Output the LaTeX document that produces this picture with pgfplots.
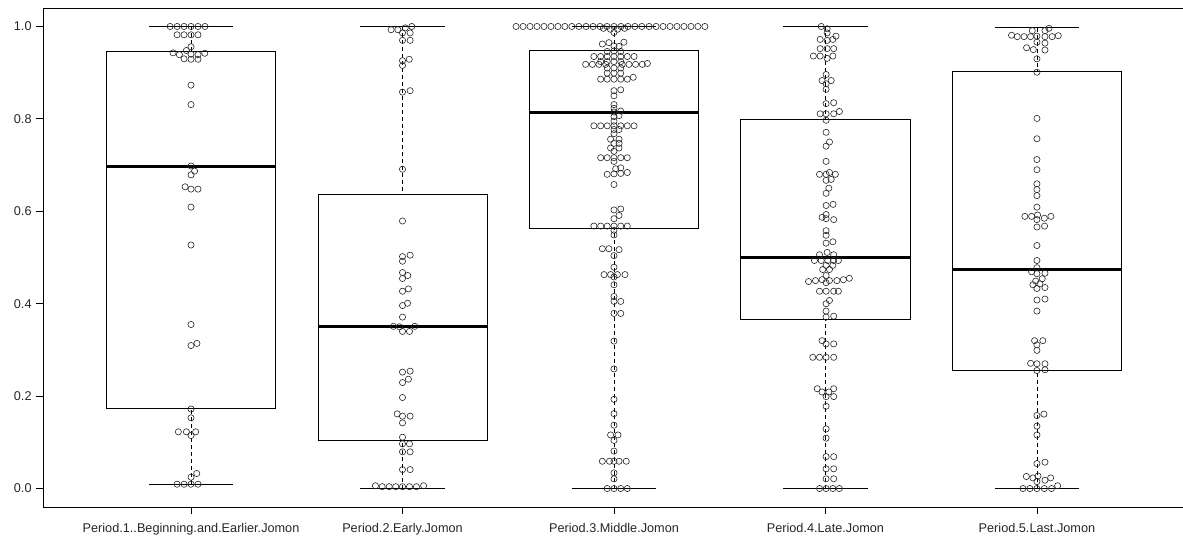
\documentclass[border=0pt]{standalone}
\usepackage{pgfplots}
\pgfplotsset{compat=1.18}
\usepgfplotslibrary{statistics}
\usepackage{fontspec}
\setmainfont{Liberation Sans}
\pgfplotsset{pts/.style={only marks, mark=o, mark size=3.1pt, mark options={line width=0.6pt, draw=black!85, fill=none}}}
\begin{document}
\fontsize{12.7pt}{15pt}\selectfont
\begin{tikzpicture}
\useasboundingbox (0,0) rectangle (1183pt,539pt);
\begin{axis}[
  at={(43pt,32pt)}, anchor=south west,
  scale only axis, width=1142pt, height=499pt,
  xmin=0.3, xmax=5.7, ymin=-0.04, ymax=1.04,
  xtick={1,2,3,4,5},
  xticklabels={Period.1..Beginning.and.Earlier.Jomon, Period.2.Early.Jomon, Period.3.Middle.Jomon, Period.4.Late.Jomon, Period.5.Last.Jomon},
  ytick={0,0.2,0.4,0.6,0.8,1.0},
  yticklabels={0.0,0.2,0.4,0.6,0.8,1.0},
  tick align=outside, tick pos=left, major tick length=7pt,
  axis line style={line width=0.8pt},
  every tick/.style={black, line width=0.8pt},
  ticklabel style={font=\fontsize{12.7pt}{15pt}\selectfont, text=black!85},
  xticklabel style={yshift=-5pt},
  boxplot/draw direction=y,
  boxplot/box extend=0.8,
  boxplot/whisker extend=0.4,
  boxplot/draw/lower whisker/.code={%
    \draw[dash pattern=on 4pt off 3pt, line width=0.8pt] (boxplot cs:\pgfplotsboxplotvalue{lower whisker}) -- (boxplot cs:\pgfplotsboxplotvalue{lower quartile});
    \draw[line width=0.8pt] (boxplot whisker cs:\pgfplotsboxplotvalue{lower whisker},0) -- (boxplot whisker cs:\pgfplotsboxplotvalue{lower whisker},1);
  },
  boxplot/draw/upper whisker/.code={%
    \draw[dash pattern=on 4pt off 3pt, line width=0.8pt] (boxplot cs:\pgfplotsboxplotvalue{upper whisker}) -- (boxplot cs:\pgfplotsboxplotvalue{upper quartile});
    \draw[line width=0.8pt] (boxplot whisker cs:\pgfplotsboxplotvalue{upper whisker},0) -- (boxplot whisker cs:\pgfplotsboxplotvalue{upper whisker},1);
  },
  boxplot/draw/median/.code={%
    \draw[line width=3pt] (boxplot box cs:\pgfplotsboxplotvalue{median},0) -- (boxplot box cs:\pgfplotsboxplotvalue{median},1);
  },
  boxplot/draw/box/.code={%
    \draw[line width=0.8pt] (boxplot box cs:\pgfplotsboxplotvalue{lower quartile},0) rectangle (boxplot box cs:\pgfplotsboxplotvalue{upper quartile},1);
  },
]
\addplot[black, boxplot prepared={lower whisker=0.0093, lower quartile=0.173, median=0.697, upper quartile=0.946, upper whisker=1.0, draw position=1}] coordinates {};
\addplot[black, boxplot prepared={lower whisker=0.0, lower quartile=0.104, median=0.351, upper quartile=0.636, upper whisker=1.0, draw position=2}] coordinates {};
\addplot[black, boxplot prepared={lower whisker=0.0, lower quartile=0.563, median=0.814, upper quartile=0.948, upper whisker=1.0, draw position=3}] coordinates {};
\addplot[black, boxplot prepared={lower whisker=0.0, lower quartile=0.366, median=0.501, upper quartile=0.798, upper whisker=1.0, draw position=4}] coordinates {};
\addplot[black, boxplot prepared={lower whisker=0.0, lower quartile=0.255, median=0.473, upper quartile=0.902, upper whisker=0.997, draw position=5}] coordinates {};

% Group 1
\addplot[pts] coordinates {
(0.901,1.0) (0.934,1.0) (0.967,1.0) (1,1.0) (1.033,1.0) (1.066,1.0)
(0.934,0.982) (0.967,0.982) (1,0.982) (1.033,0.982)
(1,0.956)
(0.978,0.948) (0.915,0.943) (0.945,0.939) (1,0.940) (1.033,0.939) (1.065,0.942)
(0.967,0.930) (1,0.929) (1.033,0.929)
(1,0.873) (1,0.831) (1,0.698) (1.017,0.687) (1,0.679)
(0.972,0.653) (1,0.648) (1.033,0.648) (1,0.609) (1,0.527)
(1,0.355) (1,0.3095) (1.028,0.314)
(1,0.172) (1,0.153) (0.940,0.1227) (0.978,0.1227) (1.022,0.1227) (1,0.1147)
(1,0.0245) (1.027,0.0325)
(0.934,0.0093) (0.967,0.0093) (1,0.0093) (1.033,0.0093)
};
% Group 2
\addplot[pts] coordinates {
(2.044,1.0) (2.013,0.997) (1.946,0.993) (1.978,0.993) (2,0.986) (2.036,0.986)
(2,0.970) (2.036,0.970) (2,0.926) (2.032,0.929) (2,0.9156)
(2,0.858) (2.036,0.861) (2,0.691) (2,0.579)
(2,0.502) (2.036,0.505) (2,0.492) (2,0.4675) (2.025,0.461) (2,0.4545)
(2,0.427) (2.028,0.432) (2,0.396) (2.024,0.401) (2,0.371)
(1.957,0.351) (1.986,0.350) (2.058,0.351) (2,0.340) (2.033,0.340)
(2,0.252) (2.036,0.254) (2,0.2294) (2.028,0.2366) (2,0.197)
(1.975,0.1616) (2,0.1566) (2.036,0.1566) (2,0.142)
(2,0.111) (2,0.0967) (2.033,0.0967) (2,0.0794) (2.036,0.0794)
(2,0.041) (2.036,0.041)
(1.872,0.006) (1.904,0.004) (1.937,0.004) (1.968,0.004) (2,0.004) (2.033,0.004) (2.066,0.004) (2.100,0.006)
};
% Group 3
\addplot[pts] coordinates {
(2.537,1.0) (2.570,1.0) (2.603,1.0) (2.636,1.0) (2.669,1.0) (2.702,1.0) (2.735,1.0)
(2.768,1.0) (2.801,1.0) (2.834,1.0) (2.868,1.0) (2.901,1.0) (2.934,1.0) (2.967,1.0)
(3.000,1.0) (3.033,1.0) (3.066,1.0) (3.099,1.0) (3.132,1.0) (3.166,1.0) (3.199,1.0)
(3.232,1.0) (3.265,1.0) (3.298,1.0) (3.331,1.0) (3.364,1.0) (3.397,1.0) (3.430,1.0)
(2.950,0.996) (2.983,0.994) (3.017,0.994) (3.050,0.996) (3.0,0.987)
(2.945,0.962) (2.976,0.965) (3.0,0.958) (3.024,0.957) (3.047,0.966)
(2.968,0.946) (3.0,0.947) (3.032,0.946)
(2.905,0.935) (2.937,0.935) (2.968,0.935) (3.0,0.935) (3.032,0.935) (3.063,0.935) (3.095,0.935)
(2.937,0.924) (2.968,0.924) (3.0,0.924) (3.032,0.924)
(2.866,0.918) (2.898,0.918) (2.929,0.918) (2.961,0.918) (3.039,0.918) (3.071,0.918) (3.102,0.918) (3.134,0.918) (3.158,0.920)
(2.968,0.910) (3.0,0.910) (3.032,0.910)
(2.968,0.899) (3.0,0.899) (3.032,0.899)
(2.937,0.886) (2.968,0.886) (3.0,0.886) (3.032,0.886) (3.063,0.886) (3.091,0.890)
(3.0,0.861) (3.032,0.863) (3.0,0.850) (3.0,0.831) (3.0,0.823)
(3.0,0.815) (3.032,0.817) (3.0,0.805) (3.024,0.807) (3.0,0.795)
(2.905,0.785) (2.937,0.785) (2.968,0.785) (3.0,0.785) (3.032,0.785) (3.063,0.785) (3.095,0.785)
(3.0,0.777) (3.024,0.777) (3.0,0.768) (2.984,0.756) (3.024,0.756)
(3.0,0.747) (3.024,0.747) (2.984,0.737) (3.024,0.737) (3.0,0.730)
(2.937,0.716) (2.968,0.716) (3.0,0.716) (3.032,0.716) (3.063,0.716) (3.0,0.708)
(3.008,0.692) (3.032,0.694)
(2.968,0.680) (3.0,0.681) (3.032,0.682) (3.063,0.684) (3.0,0.658)
(3.0,0.603) (3.032,0.605) (3.024,0.591) (3.0,0.584)
(2.905,0.568) (2.937,0.568) (2.968,0.568) (3.0,0.568) (3.032,0.568) (3.063,0.568)
(3.0,0.559) (3.0,0.549)
(2.945,0.519) (2.976,0.519) (3.024,0.517) (3.0,0.504) (3.0,0.479)
(2.953,0.463) (2.984,0.463) (3.016,0.463) (3.052,0.463) (3.0,0.458)
(3.0,0.441) (3.0,0.4156) (3.0,0.405) (3.032,0.405) (3.0,0.379) (3.032,0.379)
(3.0,0.319) (3.0,0.259) (3.0,0.193) (3.0,0.162) (3.0,0.137)
(2.984,0.116) (3.019,0.116) (3.0,0.104) (3.0,0.081)
(2.945,0.059) (2.979,0.059) (3.0,0.059) (3.024,0.059) (3.058,0.059)
(3.0,0.034) (3.0,0.021)
(2.968,0.0) (3.0,0.0) (3.032,0.0) (3.063,0.0)
};
% Group 4
\addplot[pts] coordinates {
(3.980,1.0) (4.008,0.995) (4.008,0.986)
(3.975,0.972) (4.008,0.970) (4.035,0.972) (4.050,0.979)
(3.975,0.952) (4.008,0.952) (4.039,0.952)
(3.943,0.936) (3.975,0.936) (4.008,0.931) (4.035,0.936)
(4.003,0.896) (3.984,0.883) (4.027,0.883) (4.003,0.876) (4.003,0.864)
(4.003,0.833) (4.039,0.835)
(3.975,0.811) (4.003,0.811) (4.039,0.811) (4.066,0.816) (4.003,0.797)
(4.003,0.771) (4.019,0.750) (4.003,0.741) (4.003,0.708)
(3.972,0.680) (4.003,0.680) (4.019,0.684) (4.047,0.680) (4.003,0.667) (4.027,0.669)
(4.016,0.650) (4.003,0.639) (4.003,0.6126) (4.036,0.615)
(4.003,0.593) (3.984,0.587) (4.003,0.584) (4.039,0.582)
(4.003,0.558) (4.003,0.548) (4.003,0.531) (4.035,0.534)
(3.972,0.506) (4.008,0.511) (4.039,0.506)
(3.948,0.4935) (3.980,0.4935) (4.011,0.4935) (4.039,0.4935) (4.061,0.4935)
(4.003,0.483) (4.035,0.483) (3.987,0.474) (4.019,0.474) (4.003,0.461)
(3.920,0.448) (3.953,0.450) (3.984,0.452) (4.019,0.450) (4.054,0.450) (4.085,0.452) (4.113,0.455)
(4.003,0.4455)
(3.972,0.427) (4.003,0.427) (4.039,0.427) (4.061,0.427)
(4.019,0.407) (4.003,0.400) (4.003,0.384) (4.003,0.371) (4.039,0.373)
(3.984,0.320) (4.003,0.313) (4.039,0.313)
(3.940,0.284) (3.972,0.284) (4.003,0.284) (4.039,0.284)
(3.961,0.216) (4.039,0.216) (3.984,0.209) (4.016,0.209) (4.003,0.199) (4.039,0.199)
(4.003,0.178) (4.003,0.129) (4.003,0.109)
(4.003,0.069) (4.039,0.069) (4.003,0.0426) (4.039,0.0426) (4.003,0.021) (4.039,0.021)
(3.972,0.0) (4.003,0.0) (4.035,0.0) (4.066,0.0)
};
% Group 5
\addplot[pts] coordinates {
(5.057,0.996) (4.978,0.991) (5.038,0.991)
(4.880,0.981) (4.907,0.978) (4.939,0.978) (4.970,0.978) (5.0,0.979) (5.038,0.978) (5.072,0.978) (5.101,0.980)
(5.0,0.966) (5.038,0.964)
(4.951,0.954) (4.983,0.950) (5.038,0.949)
(5.0,0.930) (5.0,0.901)
(5.0,0.801) (5.0,0.757) (5.0,0.712) (5.0,0.690) (5.0,0.6595) (5.0,0.647) (5.0,0.634) (5.0,0.609)
(4.943,0.589) (4.975,0.589) (5.003,0.592) (5.035,0.585) (5.066,0.589) (5.0,0.582)
(5.0,0.566) (5.036,0.568) (5.0,0.526)
(5.0,0.4935) (5.0,0.478) (4.975,0.469) (5.0,0.465) (5.038,0.466)
(5.025,0.454) (4.994,0.449) (4.981,0.441) (5.014,0.443) (5.0,0.433) (5.038,0.435)
(5.0,0.408) (5.038,0.410) (5.0,0.384)
(4.989,0.320) (5.028,0.320) (5.0,0.311) (5.0,0.299)
(4.970,0.271) (5.0,0.270) (5.038,0.270) (5.0,0.2554) (5.038,0.257)
(5.0,0.158) (5.033,0.161) (5.0,0.135) (5.0,0.116)
(5.0,0.054) (5.038,0.057)
(4.950,0.026) (4.981,0.023) (5.005,0.027) (5.038,0.018) (5.065,0.023) (5.0,0.015)
(4.934,0.0) (4.967,0.0) (5.0,0.0) (5.035,0.0) (5.069,0.0) (5.098,0.006)
};
\end{axis}
\end{tikzpicture}
\end{document}
